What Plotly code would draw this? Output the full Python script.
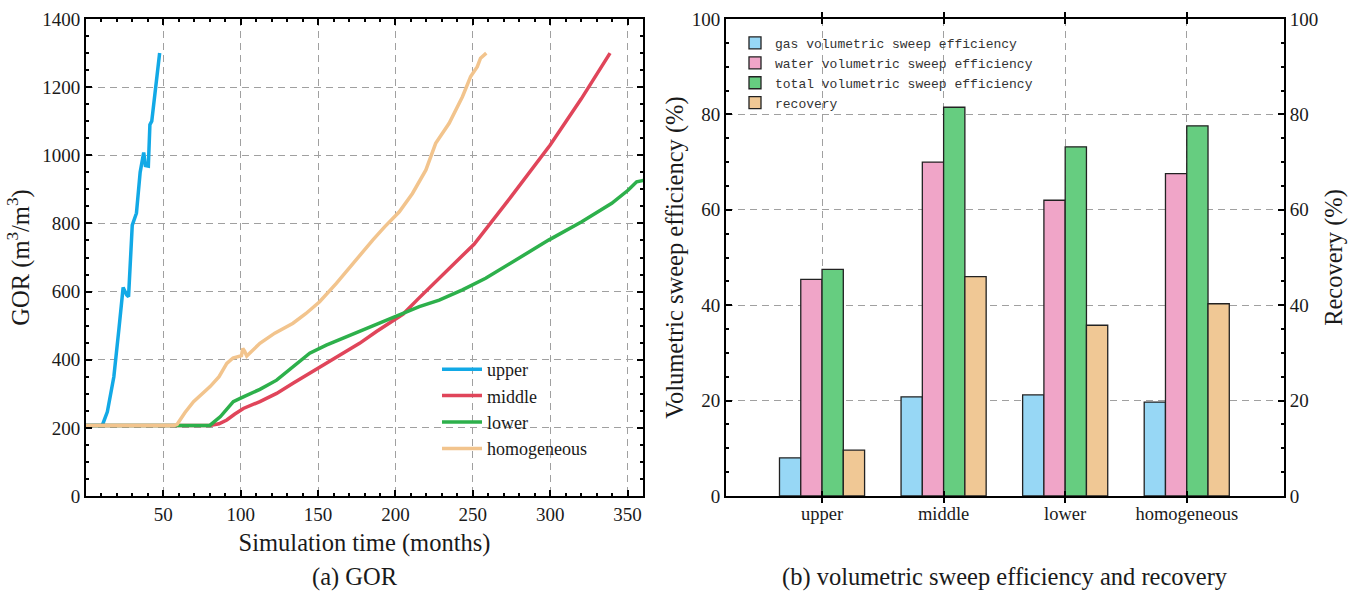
import plotly.graph_objects as go

# ---------------- data: (a) GOR ----------------
upper_x = [0, 10.5, 13.8, 18, 21.2, 24.0, 26.3, 27.5, 29.9, 32.6, 35.0, 37.3, 38.4, 40.3, 41.3, 42.5, 47.6]
upper_y = [207, 207, 247, 350, 487, 612, 590, 585, 795, 830, 950, 1008, 970, 968, 1090, 1100, 1300]

middle_x = [0, 80, 86, 91, 96, 101.7, 112.4, 123.2, 133.8, 144.6, 155.3, 166, 176.8, 187.5, 198.2,
            205, 215, 228, 240, 250.8, 275, 300, 320, 338.7]
middle_y = [207, 207, 212, 223, 240, 257, 277, 301, 331, 360, 389, 419, 448, 482, 515,
            534, 580, 638, 690, 739, 880, 1030, 1165, 1300]

lower_x = [0, 80, 86.9, 95.2, 101.7, 112.4, 123.2, 133.8, 144.6, 155.3, 166, 176.8, 187.5, 198.2,
           207.9, 215.4, 228.3, 243.3, 258.3, 277.6, 299, 320.4, 339.8, 350.5, 355.9, 361]
lower_y = [207, 207, 233, 277, 291, 313, 340, 380, 419, 443, 463, 482, 502, 522,
           541, 556, 575, 605, 639, 693, 751, 805, 859, 898, 922, 927]

homog_x = [0, 57, 58.8, 64, 69.5, 75, 80.2, 86, 91, 95, 98.5, 100.5, 101.3, 102.5, 103.9, 112.4, 122,
           133.8, 142, 151, 161.8, 172.5, 185.3, 193, 202.5, 211, 219.7, 226, 234.7, 243.3, 248.6,
           252.9, 255, 258.7]
homog_y = [207, 207, 210, 245, 277, 300, 321, 350, 389, 405, 411, 412, 433, 425, 411, 448, 478,
           507, 535, 570, 624, 683, 751, 790, 834, 888, 957, 1035, 1094, 1172, 1231,
           1260, 1285, 1300]

gor_names = ["upper", "middle", "lower", "homogeneous"]
gor_colors = ["#12A9E6", "#E0455A", "#2DB04B", "#F2C48D"]

# ---------------- data: (b) sweep efficiency ----------------
cases = ["upper", "middle", "lower", "homogeneous"]
gas_sweep = [8.0, 20.8, 21.2, 19.7]
water_sweep = [45.4, 70.0, 62.0, 67.6]
total_sweep = [47.5, 81.5, 73.2, 77.6]
recovery = [9.6, 46.0, 35.8, 40.3]

bar_names = ["gas volumetric sweep efficiency", "water volumetric sweep efficiency",
             "total volumetric sweep efficiency", "recovery"]
bar_colors = ["#97D7F5", "#F0A5C8", "#66CD80", "#F0C895"]

W, H = 1349, 592
SERIF = "Liberation Serif"

fig = go.Figure()

for xs, ys, nm, c in zip([upper_x, middle_x, lower_x, homog_x],
                         [upper_y, middle_y, lower_y, homog_y], gor_names, gor_colors):
    fig.add_trace(go.Scatter(x=xs, y=ys, mode="lines", name=nm,
                             line=dict(color=c, width=3.5), xaxis="x", yaxis="y",
                             legend="legend"))

bar_series = [gas_sweep, water_sweep, total_sweep, recovery]
for i, (vals, nm, c) in enumerate(zip(bar_series, bar_names, bar_colors)):
    fig.add_trace(go.Bar(x=cases, y=vals, name=nm, marker=dict(color=c, line=dict(color="#222222", width=1.3)),
                         xaxis="x2", yaxis="y3" if nm == "recovery" else "y2",
                         offsetgroup=str(i), legend="legend2"))

ydom = [1 - 496 / H, 1 - 19 / H]
grid = dict(showgrid=True, gridcolor="#A0A0A0", gridwidth=1.2, griddash="7px,5px")
axline = dict(showline=True, linecolor="black", linewidth=2, ticks="inside", tickcolor="black",
              tickwidth=1.5, mirror="allticks", zeroline=False, automargin=False)
tickfont = dict(family=SERIF, size=19, color="#1a1a1a")
titlefont = dict(family=SERIF, size=24.5, color="#1a1a1a")

fig.update_layout(
    width=W, height=H, autosize=False, margin=dict(l=0, r=0, t=0, b=0, pad=0, autoexpand=False),
    paper_bgcolor="white", plot_bgcolor="white",
    barmode="group", bargap=0.30, bargroupgap=0,
    xaxis=dict(domain=[86 / W, 643 / W], range=[0, 360], tickvals=[50, 100, 150, 200, 250, 300, 350],
               ticklen=6, minor=dict(dtick=10, tick0=0, ticks="inside", ticklen=3, tickcolor="black"),
               tickfont=tickfont, anchor="y",
               title=dict(text="Simulation time (months)", font=titlefont, standoff=10),
               **axline, **grid),
    yaxis=dict(domain=ydom, range=[0, 1400], dtick=200, ticklen=6,
               minor=dict(dtick=50, ticks="inside", ticklen=3, tickcolor="black"),
               tickfont=tickfont, anchor="x",
               title=dict(text="GOR (m<sup>3</sup>/m<sup>3</sup>)", font=titlefont, standoff=6),
               **axline, **grid),
    xaxis2=dict(domain=[726 / W, 1284 / W], range=[-0.79, 3.8], anchor="y2", ticklen=5,
                tickfont=dict(family=SERIF, size=18.5, color="#1a1a1a"), type="category",
                **axline, **grid),
    yaxis2=dict(domain=ydom, range=[0, 100], dtick=20, anchor="x2", ticklen=6,
                minor=dict(dtick=5, ticks="inside", ticklen=3, tickcolor="black"),
                tickfont=tickfont,
                title=dict(text="Volumetric sweep efficiency (%)", font=titlefont, standoff=1),
                showline=True, linecolor="black", linewidth=2, ticks="inside", tickcolor="black",
                tickwidth=1.5, mirror=True, zeroline=False, automargin=False, **grid),
    yaxis3=dict(range=[0, 100], dtick=20, overlaying="y2", side="right", anchor="x2", ticklen=6,
                minor=dict(dtick=5, ticks="inside", ticklen=3, tickcolor="black"),
                tickfont=tickfont, showgrid=False,
                title=dict(text="Recovery (%)", font=titlefont, standoff=8),
                showline=True, linecolor="black", linewidth=2, ticks="inside", tickcolor="black",
                tickwidth=1.5, zeroline=False, automargin=False),
    legend=dict(x=437 / W, y=1 - 351 / H, xanchor="left", yanchor="top", bgcolor="rgba(0,0,0,0)",
                font=dict(family=SERIF, size=18, color="#1a1a1a"), tracegroupgap=0, itemwidth=40),
    legend2=dict(x=735 / W, y=1 - 28 / H, xanchor="left", yanchor="top", bgcolor="rgba(0,0,0,0)",
                 font=dict(family="Liberation Mono", size=13, color="#333"), tracegroupgap=0,
                 itemwidth=30),
    annotations=[
        dict(text="(a) GOR", x=355 / W, y=1 - 577 / H, xref="paper", yref="paper", showarrow=False,
             font=titlefont, xanchor="center", yanchor="middle"),
        dict(text="(b) volumetric sweep efficiency and recovery", x=1005 / W, y=1 - 577 / H,
             xref="paper", yref="paper", showarrow=False,
             font=titlefont, xanchor="center", yanchor="middle"),
    ],
)

fig.write_html("out.html")
